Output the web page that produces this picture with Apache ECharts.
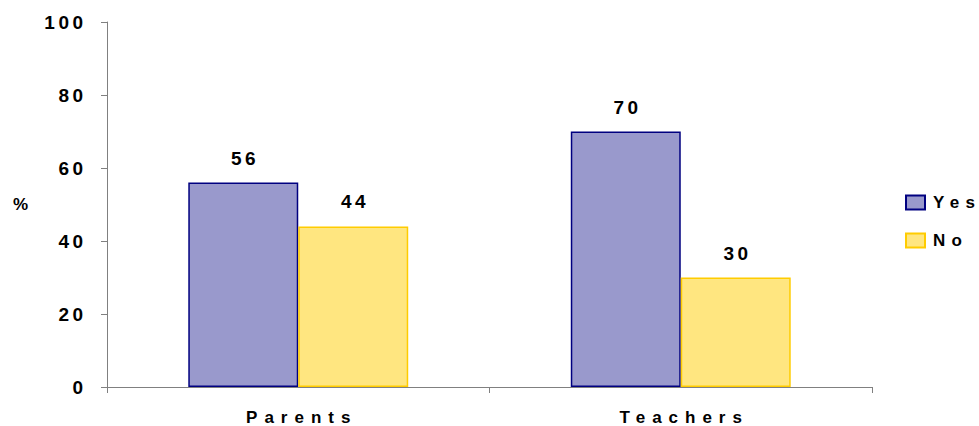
<!DOCTYPE html>
<html><head><meta charset="utf-8">
<script src="https://cdn.jsdelivr.net/npm/echarts@6/dist/echarts.min.js"></script>
<style>html,body{margin:0;padding:0;background:#fff}#c{width:979px;height:426px}</style>
</head><body><div id="c"></div>
<script>
var categories = ['Parents', 'Teachers'];
var yesValues = [56, 70];
var noValues = [44, 30];
var seriesNames = ['Yes', 'No'];
var yTicks = [0, 20, 40, 60, 80, 100];

var font = 'Liberation Sans, Arial, sans-serif';
var chart = echarts.init(document.getElementById('c'), null, {renderer: 'svg'});
chart.setOption({
  backgroundColor: '#fff',
  animation: false,
  textStyle: {fontFamily: font},
  grid: {left: 107, right: 107, top: 22, bottom: 37, containLabel: false},
  legend: {
    orient: 'vertical', left: 905, top: 194, padding: 0, icon: 'rect',
    itemWidth: 19, itemHeight: 14, itemGap: 21,
    data: seriesNames,
    textStyle: {fontFamily: font, fontSize: 17, fontWeight: 'bold', color: '#000', padding: [0, 0, 0, 3]}
  },
  xAxis: {
    type: 'category', data: categories,
    axisLine: {lineStyle: {color: '#808080', width: 1}},
    axisTick: {show: true, alignWithLabel: false, length: 6, lineStyle: {color: '#808080'}},
    axisLabel: {margin: 22, fontFamily: font, fontSize: 17, fontWeight: 'bold', color: '#000'}
  },
  yAxis: {
    type: 'value', min: 0, max: 100, interval: 20,
    name: '%', nameLocation: 'middle', nameRotate: 0, nameGap: 79,
    nameTextStyle: {fontFamily: font, fontSize: 17, fontWeight: 'bold', color: '#000'},
    axisLine: {show: true, lineStyle: {color: '#808080', width: 1}},
    axisTick: {show: true, length: 6, lineStyle: {color: '#808080'}},
    splitLine: {show: false},
    axisLabel: {margin: 24, fontFamily: font, fontSize: 19, fontWeight: 'bold', color: '#000',
      formatter: function (v) { return yTicks.indexOf(v) >= 0 ? String(v) : ''; }}
  },
  series: [
    {name: seriesNames[0], type: 'bar', data: yesValues, barGap: '0%', barCategoryGap: '42.5%',
      itemStyle: {color: '#9999CC', borderColor: '#000080', borderWidth: 1.5},
      label: {show: true, position: 'top', distance: 15, fontFamily: font, fontSize: 19, fontWeight: 'bold', color: '#000'}},
    {name: seriesNames[1], type: 'bar', data: noValues, barGap: '0%', barCategoryGap: '42.5%',
      itemStyle: {color: '#FFE680', borderColor: '#FFCC00', borderWidth: 1.5},
      label: {show: true, position: 'top', distance: 15, fontFamily: font, fontSize: 19, fontWeight: 'bold', color: '#000'}}
  ]
});

// Widen character spacing (as in the reference) without a trailing gap
function applySpacing() {
  document.querySelectorAll('#c svg text').forEach(function (t) {
    var txt = t.textContent;
    var n = txt.length;
    if (n < 2) return;
    var s = /^\d+$/.test(txt) ? 3.5 : (seriesNames.indexOf(txt) >= 0 ? 6.3 : 7);
    t.removeAttribute('textLength');
    t.removeAttribute('lengthAdjust');
    var w = t.getComputedTextLength();
    t.setAttribute('lengthAdjust', 'spacing');
    t.setAttribute('textLength', (w + (n - 1) * s).toFixed(2));
  });
}
applySpacing();
chart.on('finished', applySpacing);
</script></body></html>
